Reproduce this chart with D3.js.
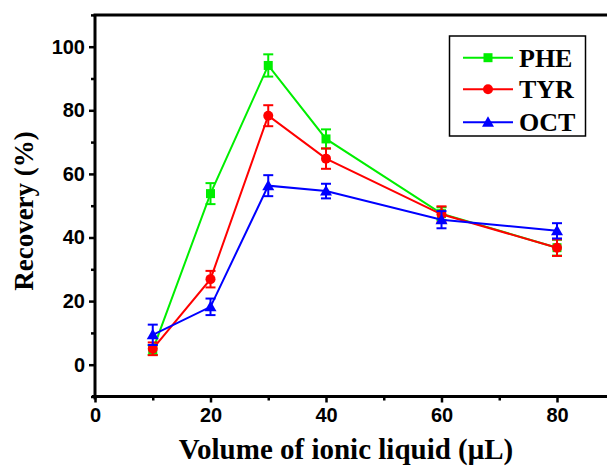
<!DOCTYPE html>
<html><head><meta charset="utf-8">
<script src="https://cdn.jsdelivr.net/npm/d3@7/dist/d3.min.js"></script>
<style>html,body{margin:0;padding:0;background:#fff;overflow:hidden}</style>
</head><body>
<script>
const volumes = [10, 20, 30, 40, 60, 80];
const seriesNames = ["PHE", "TYR", "OCT"];
const pheValues = [4.6, 53.8, 94.1, 71.0, 47.5, 36.8];
const pheErrors = [1.5, 3.3, 3.5, 3.0, 2.0, 2.5];
const tyrValues = [5.0, 26.9, 78.3, 64.8, 47.3, 36.8];
const tyrErrors = [2.0, 2.6, 3.3, 3.2, 2.5, 2.6];
const octValues = [9.4, 18.2, 56.3, 54.6, 45.6, 42.1];
const octErrors = [3.2, 2.6, 3.3, 2.3, 2.7, 2.4];
const xTicks = [0, 20, 40, 60, 80];
const yTicks = [0, 20, 40, 60, 80, 100];

const W = 607, H = 466;
const svg = d3.select("body").append("svg").attr("width", W).attr("height", H);
const x = d3.scaleLinear().domain([0, 90]).range([95, 614.75]);
const y = d3.scaleLinear().domain([-10, 110]).range([396.5, 14.9]);

const series = [
  {name: "PHE", vals: pheValues, errs: pheErrors, color: "#00ee00", marker: "square"},
  {name: "TYR", vals: tyrValues, errs: tyrErrors, color: "#ff0000", marker: "circle"},
  {name: "OCT", vals: octValues, errs: octErrors, color: "#0000ff", marker: "triangle"}
];

function drawMarker(g, type, cx, cy, color) {
  if (type === "square") {
    g.append("rect").attr("x", cx - 4.5).attr("y", cy - 4.5).attr("width", 9).attr("height", 9).attr("fill", color);
  } else if (type === "circle") {
    g.append("circle").attr("cx", cx).attr("cy", cy).attr("r", 5).attr("fill", color);
  } else {
    g.append("path").attr("d", `M${cx},${cy-6}L${cx+6},${cy+4.5}L${cx-6},${cy+4.5}Z`).attr("fill", color);
  }
}

// data
series.forEach(s => {
  const g = svg.append("g");
  const pts = volumes.map((v, i) => [x(v), y(s.vals[i])]);
  g.append("path").attr("d", d3.line()(pts)).attr("fill", "none").attr("stroke", s.color).attr("stroke-width", 2);
  volumes.forEach((v, i) => {
    const cx = x(v), top = y(s.vals[i] + s.errs[i]), bot = y(s.vals[i] - s.errs[i]);
    g.append("line").attr("x1", cx).attr("x2", cx).attr("y1", top).attr("y2", bot).attr("stroke", s.color).attr("stroke-width", 2);
    g.append("line").attr("x1", cx - 5).attr("x2", cx + 5).attr("y1", top).attr("y2", top).attr("stroke", s.color).attr("stroke-width", 2);
    g.append("line").attr("x1", cx - 5).attr("x2", cx + 5).attr("y1", bot).attr("y2", bot).attr("stroke", s.color).attr("stroke-width", 2);
    drawMarker(g, s.marker, cx, y(s.vals[i]), s.color);
  });
});

// axes
const xAxis = svg.append("g").attr("transform", `translate(0,${y(-10)})`)
  .call(d3.axisBottom(x).tickValues(xTicks).tickSize(6).tickPadding(5).tickFormat(d3.format("d")));
const xMinor = svg.append("g").attr("transform", `translate(0,${y(-10)})`)
  .call(d3.axisBottom(x).tickValues([10, 30, 50, 70]).tickSize(4).tickFormat(""));
const yAxis = svg.append("g").attr("transform", `translate(${x(0)},0)`)
  .call(d3.axisLeft(y).tickValues(yTicks).tickSize(6).tickPadding(4).tickFormat(d3.format("d")));
const yMinor = svg.append("g").attr("transform", `translate(${x(0)},0)`)
  .call(d3.axisLeft(y).tickValues([-10, 10, 30, 50, 70, 90, 110]).tickSize(4).tickFormat(""));
[xAxis, xMinor, yAxis, yMinor].forEach(a => {
  a.select(".domain").remove();
  a.selectAll(".tick line").attr("stroke", "#000").attr("stroke-width", 2.5);
  a.selectAll(".tick text").attr("fill", "#000")
    .style("font-family", "'Liberation Sans', Arial, sans-serif").style("font-weight", "bold").style("font-size", "20px");
});
// frame lines
svg.append("line").attr("x1", x(0) - 3).attr("x2", W).attr("y1", y(-10)).attr("y2", y(-10)).attr("stroke", "#000").attr("stroke-width", 3);
svg.append("line").attr("x1", x(0)).attr("x2", x(0)).attr("y1", y(110)).attr("y2", y(-10) + 3).attr("stroke", "#000").attr("stroke-width", 3);
svg.append("line").attr("x1", x(0) - 1.5).attr("x2", W).attr("y1", y(110)).attr("y2", y(110)).attr("stroke", "#000").attr("stroke-width", 3);

// titles
const serif = "'Liberation Serif', 'Times New Roman', serif";
svg.append("text").attr("x", 346).attr("y", 459).attr("text-anchor", "middle")
  .style("font-family", serif).style("font-weight", "bold").style("font-size", "29px")
  .text("Volume of ionic liquid (μL)");
svg.append("text").attr("transform", "translate(33,211) rotate(-90)").attr("text-anchor", "middle")
  .style("font-family", serif).style("font-weight", "bold").style("font-size", "27px")
  .text("Recovery (%)");

// legend
const lg = svg.append("g");
lg.append("rect").attr("x", 449.5).attr("y", 36).attr("width", 136).attr("height", 100)
  .attr("fill", "#fff").attr("stroke", "#000").attr("stroke-width", 1.5);
const legY = [57.7, 89.3, 122.3];
series.forEach((s, i) => {
  lg.append("line").attr("x1", 463).attr("x2", 513).attr("y1", legY[i]).attr("y2", legY[i]).attr("stroke", s.color).attr("stroke-width", 2);
  drawMarker(lg, s.marker, 488, legY[i], s.color);
  lg.append("text").attr("x", 519).attr("y", legY[i] + 9)
    .style("font-family", serif).style("font-weight", "bold").style("font-size", "26px")
    .text(seriesNames[i]);
});
</script>
</body></html>
